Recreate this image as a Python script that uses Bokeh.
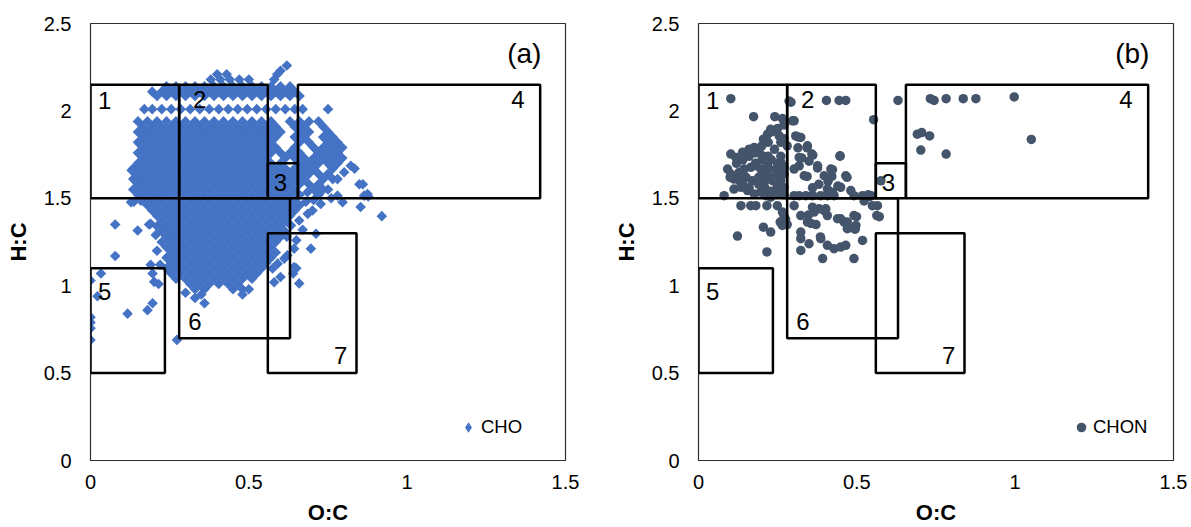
from bokeh.plotting import figure
from bokeh.layouts import row
from bokeh.models import Range1d, FixedTicker, Legend, LegendItem, Label
from bokeh.embed import file_html
from bokeh.resources import INLINE
from bokeh.core.properties import value
import numpy as np

# ---------------- data ----------------
x_ticks = [0, 0.5, 1, 1.5]
x_tick_labels = ["0", "0.5", "1", "1.5"]
y_ticks = [0, 0.5, 1, 1.5, 2, 2.5]
y_tick_labels = ["0", "0.5", "1", "1.5", "2", "2.5"]

# van Krevelen regions
box_names = ["1", "2", "3", "4", "5", "6", "7"]
box_left = [0.0, 0.28, 0.56, 0.655, 0.0, 0.28, 0.56]
box_right = [0.28, 0.56, 0.655, 1.42, 0.235, 0.63, 0.84]
box_bottom = [1.5, 1.5, 1.5, 1.5, 0.5, 0.7, 0.5]
box_top = [2.15, 2.15, 1.7, 2.15, 1.1, 1.5, 1.3]
box_label_oc = [0.045, 0.345, 0.60, 1.35, 0.045, 0.33, 0.79]
box_label_hc = [2.06, 2.065, 1.59, 2.065, 0.965, 0.795, 0.60]

# CHO (panel a): dense rows of the cloud, H:C of each row and its O:C values
cho_row_hc = [2.21, 2.18, 2.14, 2.11, 2.085, 2.01,
              1.94, 1.91, 1.88, 1.85, 1.82, 1.79, 1.76, 1.73, 1.70, 1.67,
              1.64, 1.61, 1.58, 1.55, 1.52, 1.49, 1.46, 1.43, 1.40, 1.37,
              1.34, 1.31, 1.28, 1.25, 1.22, 1.19, 1.16, 1.13, 1.10, 1.07,
              1.04, 1.01, 0.98]
cho_row_oc = [
    [0.40, 0.43, 0.59],
    [0.38, 0.41, 0.44, 0.47, 0.50, 0.58],
    [0.24, 0.27, 0.30, 0.33, 0.36, 0.39, 0.42, 0.45, 0.48, 0.51, 0.54, 0.57, 0.60, 0.63],
    [0.195, 0.225, 0.255, 0.285, 0.315, 0.345, 0.375, 0.405, 0.435, 0.465, 0.495, 0.525, 0.555, 0.585, 0.615, 0.645],
    [0.21, 0.24, 0.27, 0.30, 0.33, 0.36, 0.39, 0.42, 0.45, 0.48, 0.51, 0.54, 0.57, 0.60, 0.63, 0.66],
    [0.17, 0.195, 0.225, 0.255, 0.285, 0.315, 0.345, 0.375, 0.405, 0.435, 0.465, 0.495, 0.525, 0.555, 0.585, 0.615, 0.645, 0.67, 0.75],
    [0.15, 0.18, 0.21, 0.24, 0.27, 0.30, 0.33, 0.36, 0.39, 0.42, 0.45, 0.48, 0.51, 0.54, 0.57, 0.63, 0.66, 0.69, 0.72],
    [0.165, 0.195, 0.225, 0.255, 0.285, 0.315, 0.345, 0.375, 0.405, 0.435, 0.465, 0.495, 0.525, 0.555, 0.585, 0.645, 0.675, 0.735],
    [0.15, 0.18, 0.21, 0.24, 0.27, 0.30, 0.33, 0.36, 0.39, 0.42, 0.45, 0.48, 0.51, 0.54, 0.57, 0.60, 0.66, 0.69, 0.75],
    [0.165, 0.195, 0.225, 0.255, 0.285, 0.315, 0.345, 0.375, 0.405, 0.435, 0.465, 0.495, 0.525, 0.555, 0.585, 0.645, 0.675, 0.735, 0.765],
    [0.15, 0.18, 0.21, 0.24, 0.27, 0.30, 0.33, 0.36, 0.39, 0.42, 0.45, 0.48, 0.51, 0.54, 0.57, 0.66, 0.69, 0.75, 0.78],
    [0.165, 0.195, 0.225, 0.255, 0.285, 0.315, 0.345, 0.375, 0.405, 0.435, 0.465, 0.495, 0.525, 0.555, 0.585, 0.645, 0.705, 0.735, 0.765, 0.795],
    [0.15, 0.18, 0.21, 0.24, 0.27, 0.30, 0.33, 0.36, 0.39, 0.42, 0.45, 0.48, 0.51, 0.54, 0.57, 0.60, 0.63, 0.66, 0.72, 0.75, 0.78],
    [0.165, 0.195, 0.225, 0.255, 0.285, 0.315, 0.345, 0.375, 0.405, 0.435, 0.465, 0.495, 0.525, 0.555, 0.615, 0.645, 0.675, 0.705, 0.735, 0.765, 0.795],
    [0.15, 0.18, 0.21, 0.24, 0.27, 0.30, 0.33, 0.36, 0.39, 0.42, 0.45, 0.48, 0.51, 0.54, 0.57, 0.60, 0.66, 0.69, 0.72, 0.75, 0.78],
    [0.135, 0.165, 0.195, 0.225, 0.255, 0.285, 0.315, 0.345, 0.375, 0.405, 0.435, 0.465, 0.495, 0.525, 0.555, 0.585, 0.615, 0.645, 0.675, 0.705, 0.765],
    [0.15, 0.18, 0.21, 0.24, 0.27, 0.30, 0.33, 0.36, 0.39, 0.42, 0.45, 0.48, 0.51, 0.54, 0.57, 0.60, 0.63, 0.66, 0.69, 0.72, 0.75],
    [0.135, 0.165, 0.195, 0.225, 0.255, 0.285, 0.315, 0.345, 0.375, 0.405, 0.435, 0.465, 0.495, 0.525, 0.555, 0.585, 0.615, 0.645, 0.675, 0.735, 0.765],
    [0.15, 0.18, 0.21, 0.24, 0.27, 0.30, 0.33, 0.36, 0.39, 0.42, 0.45, 0.48, 0.51, 0.54, 0.57, 0.60, 0.63, 0.66, 0.69, 0.72],
    [0.135, 0.165, 0.195, 0.225, 0.255, 0.285, 0.315, 0.345, 0.375, 0.405, 0.435, 0.465, 0.495, 0.525, 0.555, 0.585, 0.615, 0.645, 0.705, 0.735],
    [0.15, 0.18, 0.21, 0.24, 0.27, 0.30, 0.33, 0.36, 0.39, 0.42, 0.45, 0.48, 0.51, 0.54, 0.57, 0.60, 0.63, 0.66, 0.72],
    [0.165, 0.195, 0.225, 0.255, 0.285, 0.315, 0.345, 0.375, 0.405, 0.435, 0.465, 0.495, 0.525, 0.555, 0.585, 0.615, 0.645, 0.705],
    [0.18, 0.21, 0.24, 0.27, 0.30, 0.33, 0.36, 0.39, 0.42, 0.45, 0.48, 0.51, 0.54, 0.57, 0.60, 0.63, 0.66],
    [0.195, 0.225, 0.255, 0.285, 0.315, 0.345, 0.375, 0.405, 0.435, 0.465, 0.495, 0.525, 0.555, 0.585, 0.615, 0.645],
    [0.21, 0.24, 0.27, 0.30, 0.33, 0.36, 0.39, 0.42, 0.45, 0.48, 0.51, 0.54, 0.57, 0.60, 0.63],
    [0.225, 0.255, 0.285, 0.315, 0.345, 0.375, 0.405, 0.435, 0.465, 0.495, 0.525, 0.555, 0.585, 0.615],
    [0.21, 0.24, 0.27, 0.30, 0.33, 0.36, 0.39, 0.42, 0.45, 0.48, 0.51, 0.54, 0.57, 0.60],
    [0.225, 0.255, 0.285, 0.315, 0.345, 0.375, 0.405, 0.435, 0.465, 0.495, 0.525, 0.555, 0.585, 0.615],
    [0.24, 0.27, 0.30, 0.33, 0.36, 0.39, 0.42, 0.45, 0.48, 0.51, 0.54, 0.57, 0.60],
    [0.225, 0.255, 0.285, 0.315, 0.345, 0.375, 0.405, 0.435, 0.465, 0.495, 0.525, 0.555, 0.585],
    [0.24, 0.27, 0.30, 0.33, 0.36, 0.39, 0.42, 0.45, 0.48, 0.51, 0.54, 0.57],
    [0.255, 0.285, 0.315, 0.345, 0.375, 0.405, 0.435, 0.465, 0.495, 0.525, 0.555, 0.585],
    [0.24, 0.27, 0.30, 0.33, 0.36, 0.39, 0.42, 0.45, 0.48, 0.51, 0.54, 0.57],
    [0.255, 0.285, 0.315, 0.345, 0.375, 0.405, 0.435, 0.465, 0.495, 0.525, 0.555],
    [0.24, 0.27, 0.30, 0.33, 0.36, 0.39, 0.42, 0.45, 0.48, 0.51, 0.54],
    [0.255, 0.285, 0.315, 0.345, 0.375, 0.405, 0.435, 0.465, 0.495, 0.525],
    [0.27, 0.30, 0.33, 0.36, 0.39, 0.42, 0.45, 0.48, 0.51],
    [0.315, 0.345, 0.375, 0.405, 0.435, 0.465],
    [0.33, 0.36, 0.45, 0.48],
]

# CHO (panel a): scattered points around the cloud
cho_extra_oc = [0.62, 0.60, 0.078, 0.078, 0.149, 0.185, 0.137, 0.206, 0.033, 0.0, 0.022,
                0.0, 0.0, 0.0, 0.0, 0.117, 0.18, 0.196, 0.215, 0.273, 0.19, 0.128, 0.159,
                0.196, 0.201, 0.228, 0.21, 0.22, 0.19, 0.13, 0.145, 0.16, 0.254, 0.30,
                0.33, 0.36, 0.35, 0.48, 0.50,
                0.92, 0.853, 0.864, 0.875, 0.796, 0.78, 0.727, 0.685, 0.849, 0.822, 0.801,
                0.78, 0.633, 0.659, 0.686, 0.701, 0.712, 0.696, 0.643, 0.622, 0.643,
                0.659, 0.612, 0.591, 0.575, 0.638, 0.65, 0.64, 0.834, 0.86, 0.877, 0.75,
                0.76, 0.72, 0.60, 0.58, 0.62, 0.65, 0.67, 0.68]
cho_extra_hc = [2.26, 2.23, 1.35, 1.17, 1.316, 1.35, 1.48, 1.29, 1.07, 1.03, 0.94,
                0.82, 0.79, 0.756, 0.69, 0.84, 0.86, 0.90, 1.01, 0.69, 1.354, 1.478, 1.487,
                1.07, 1.022, 1.345, 1.20, 1.12, 1.12, 1.66, 1.63, 1.60, 1.288, 0.96,
                0.93, 0.90, 0.95, 0.95, 0.98,
                1.398, 1.45, 1.515, 1.525, 1.478, 1.515, 1.468, 1.535, 1.58, 1.686, 1.649,
                1.61, 1.345, 1.373, 1.411, 1.43, 1.297, 1.212, 1.212, 1.174, 1.107,
                1.013, 1.155, 1.126, 1.098, 1.44, 1.10, 1.07, 1.67, 1.58, 1.51, 1.55,
                1.50, 1.52, 1.05, 1.02, 1.28, 1.26, 1.32, 1.48]

# CHON (panel b)
chon_oc = [0.102, 0.292, 0.404, 0.444, 0.465, 0.63, 0.732, 0.744, 0.782, 0.836, 0.876, 0.997,
           1.051, 0.691, 0.705, 0.73, 0.702, 0.782, 0.553, 0.576, 0.536,
           0.174, 0.241, 0.265, 0.297, 0.228, 0.244, 0.218, 0.205, 0.255, 0.26, 0.307, 0.323,
           0.344, 0.358, 0.447, 0.318, 0.349,
           0.102, 0.118, 0.139, 0.16, 0.176, 0.191, 0.202,
           0.092, 0.102, 0.112, 0.128, 0.144, 0.165, 0.181, 0.197, 0.213, 0.223, 0.244, 0.26,
           0.234, 0.249, 0.27, 0.26, 0.218,
           0.12, 0.14, 0.16, 0.18, 0.20, 0.22, 0.24, 0.20, 0.22, 0.18, 0.15, 0.17, 0.19, 0.21,
           0.19, 0.21, 0.23, 0.25, 0.27, 0.26, 0.27, 0.25, 0.23, 0.13, 0.10, 0.14, 0.16, 0.27,
           0.24, 0.22, 0.26, 0.28, 0.27, 0.25, 0.27, 0.23,
           0.081, 0.112, 0.134, 0.155, 0.176, 0.197, 0.213, 0.228, 0.249,
           0.134, 0.165, 0.181, 0.216, 0.249, 0.265, 0.258, 0.265, 0.205, 0.228, 0.123, 0.216,
           0.27, 0.28, 0.275,
           0.302, 0.318, 0.339, 0.36, 0.386, 0.407, 0.428, 0.491, 0.518, 0.545, 0.565,
           0.302, 0.323, 0.344, 0.365, 0.381, 0.397, 0.407, 0.439, 0.46, 0.47, 0.491, 0.518, 0.491,
           0.323, 0.323, 0.349, 0.323, 0.386, 0.407, 0.428, 0.449, 0.465, 0.491, 0.392,
           0.563, 0.549, 0.571, 0.499, 0.523, 0.54,
           0.376, 0.418, 0.465, 0.397, 0.334, 0.318, 0.302,
           0.407, 0.423, 0.449, 0.481, 0.469, 0.423, 0.447,
           0.355, 0.347, 0.371, 0.36, 0.402, 0.449, 0.47, 0.497,
           0.314, 0.343, 0.326, 0.314, 0.361, 0.376, 0.343, 0.409, 0.421,
           0.302, 0.286, 0.495, 0.385, 0.44, 0.38, 0.36]
chon_hc = [2.07, 2.05, 2.06, 2.06, 2.06, 2.06, 2.07, 2.06, 2.07, 2.07, 2.07, 2.08,
           1.837, 1.867, 1.876, 1.857, 1.776, 1.753, 1.95, 1.60, 1.52,
           1.967, 1.967, 1.956, 1.943, 1.895, 1.886, 1.867, 1.838, 1.857, 1.82, 1.857, 1.848,
           1.80, 1.753, 1.743, 1.734, 1.712,
           1.753, 1.734, 1.763, 1.781, 1.791, 1.781, 1.743,
           1.667, 1.639, 1.61, 1.648, 1.667, 1.677, 1.686, 1.667, 1.639, 1.62, 1.667, 1.648,
           1.601, 1.572, 1.639, 1.706, 1.686,
           1.70, 1.72, 1.74, 1.76, 1.72, 1.74, 1.78, 1.80, 1.82, 1.70, 1.62, 1.60, 1.62, 1.60,
           1.58, 1.56, 1.54, 1.54, 1.56, 1.60, 1.68, 1.70, 1.72, 1.60, 1.62, 1.58, 1.56, 1.52,
           1.62, 1.66, 1.74, 1.80, 1.84, 1.90, 1.92, 1.88,
           1.515, 1.553, 1.563, 1.544, 1.525, 1.535, 1.515, 1.506, 1.525,
           1.458, 1.458, 1.458, 1.458, 1.458, 1.421, 1.364, 1.345, 1.335, 1.307, 1.284, 1.193,
           1.40, 1.35, 1.38,
           1.515, 1.515, 1.515, 1.515, 1.515, 1.515, 1.515, 1.515, 1.515, 1.515, 1.458,
           1.458, 1.401, 1.364, 1.421, 1.44, 1.43, 1.401, 1.383, 1.364, 1.326, 1.326, 1.259, 1.401,
           1.307, 1.269, 1.24, 1.202, 1.269, 1.231, 1.212, 1.221, 1.231, 1.155, 1.155,
           1.401, 1.458, 1.395, 1.395, 1.485, 1.51,
           1.686, 1.667, 1.629, 1.629, 1.629, 1.686, 1.667,
           1.553, 1.535, 1.563, 1.544, 1.62, 1.664, 1.741,
           1.356, 1.404, 1.35, 1.449, 1.44, 1.383, 1.364, 1.345,
           1.789, 1.789, 1.731, 1.851, 1.747, 1.674, 1.625, 1.597, 1.625,
           1.943, 2.056, 1.323, 1.279, 1.57, 1.58, 1.56]

# ---------------- build ----------------
cho_oc = [x for xs in cho_row_oc for x in xs] + cho_extra_oc
cho_hc = [h for h, xs in zip(cho_row_hc, cho_row_oc) for _ in xs] + cho_extra_hc

FONT = "Liberation Sans"
CHO_COLOR = "#4472C4"
CHON_COLOR = "#44546A"


def make_panel(width, left, right, tag, oc, hc, marker, color, size, angle, label,
               leg_marker, leg_glyph, leg_standoff, leg_loc):
    p = figure(width=width, height=527, output_backend="svg", toolbar_location=None,
               x_range=Range1d(0, 1.5), y_range=Range1d(0, 2.5),
               min_border_left=left, min_border_right=right,
               min_border_top=23, min_border_bottom=64)
    p.grid.visible = False
    p.background_fill_color = "white"
    p.border_fill_color = "white"
    p.outline_line_color = "#303030"
    p.outline_line_width = 1.2

    for ax, ticks, labels in ((p.xaxis, x_ticks, x_tick_labels), (p.yaxis, y_ticks, y_tick_labels)):
        ax.ticker = FixedTicker(ticks=ticks)
        ax.major_label_overrides = {t: l for t, l in zip(ticks, labels)}
        ax.major_tick_out = 0
        ax.major_tick_in = 0
        ax.minor_tick_out = 0
        ax.minor_tick_in = 0
        ax.axis_line_color = None
        ax.major_label_text_font = FONT
        ax.major_label_text_font_size = "20px"
        ax.major_label_text_color = "black"
        ax.axis_label_text_font = FONT
        ax.axis_label_text_font_size = "22px"
        ax.axis_label_text_font_style = "bold"
        ax.axis_label_text_color = "black"
    p.xaxis.axis_label = "O:C"
    p.yaxis.axis_label = "H:C"
    p.xaxis.major_label_standoff = 14
    p.xaxis.axis_label_standoff = 8
    p.yaxis.major_label_standoff = 19
    p.yaxis.axis_label_standoff = 10

    r = p.scatter(oc, hc, marker=marker, size=size, angle=angle,
                  fill_color=color, line_color=None)
    if leg_marker != marker:
        # legend swatch only (Bokeh legends never rotate a marker), not drawn in the plot
        r_leg = p.scatter(oc, hc, marker=leg_marker, fill_color=color, line_color=None,
                          visible=False)
    else:
        r_leg = r

    p.quad(left=box_left, right=box_right, bottom=box_bottom, top=box_top,
           fill_alpha=0, line_color="black", line_width=2.5)
    p.text(x=box_label_oc, y=box_label_hc, text=box_names,
           text_font=value(FONT), text_font_size="24px", text_color="black",
           text_align="center", text_baseline="middle")
    p.add_layout(Label(x=1.37, y=2.33, text=tag, text_font=FONT, text_font_size="28px",
                       text_color="black", text_align="center", text_baseline="middle"))

    leg = Legend(items=[LegendItem(label=label, renderers=[r_leg])], location=leg_loc,
                 glyph_width=leg_glyph, glyph_height=leg_glyph, label_standoff=leg_standoff,
                 padding=0, margin=0, spacing=0, border_line_alpha=0,
                 background_fill_alpha=0, inactive_fill_alpha=0, label_text_font=FONT,
                 label_text_font_size="18.5px", label_text_color="black")
    p.add_layout(leg)
    return p


p1 = make_panel(600, 90, 35, "(a)", cho_oc, cho_hc, "square", CHO_COLOR, 7.5, np.pi / 4,
                "CHO", "diamond", 26, -4, (365, 20))
p2 = make_panel(591, 98, 18, "(b)", chon_oc, chon_hc, "circle", CHON_COLOR, 9.5, 0,
                "CHON", "circle", 24, -3, (371, 21))

layout = row(p1, p2)
open("out.html", "w").write(file_html(layout, INLINE))
